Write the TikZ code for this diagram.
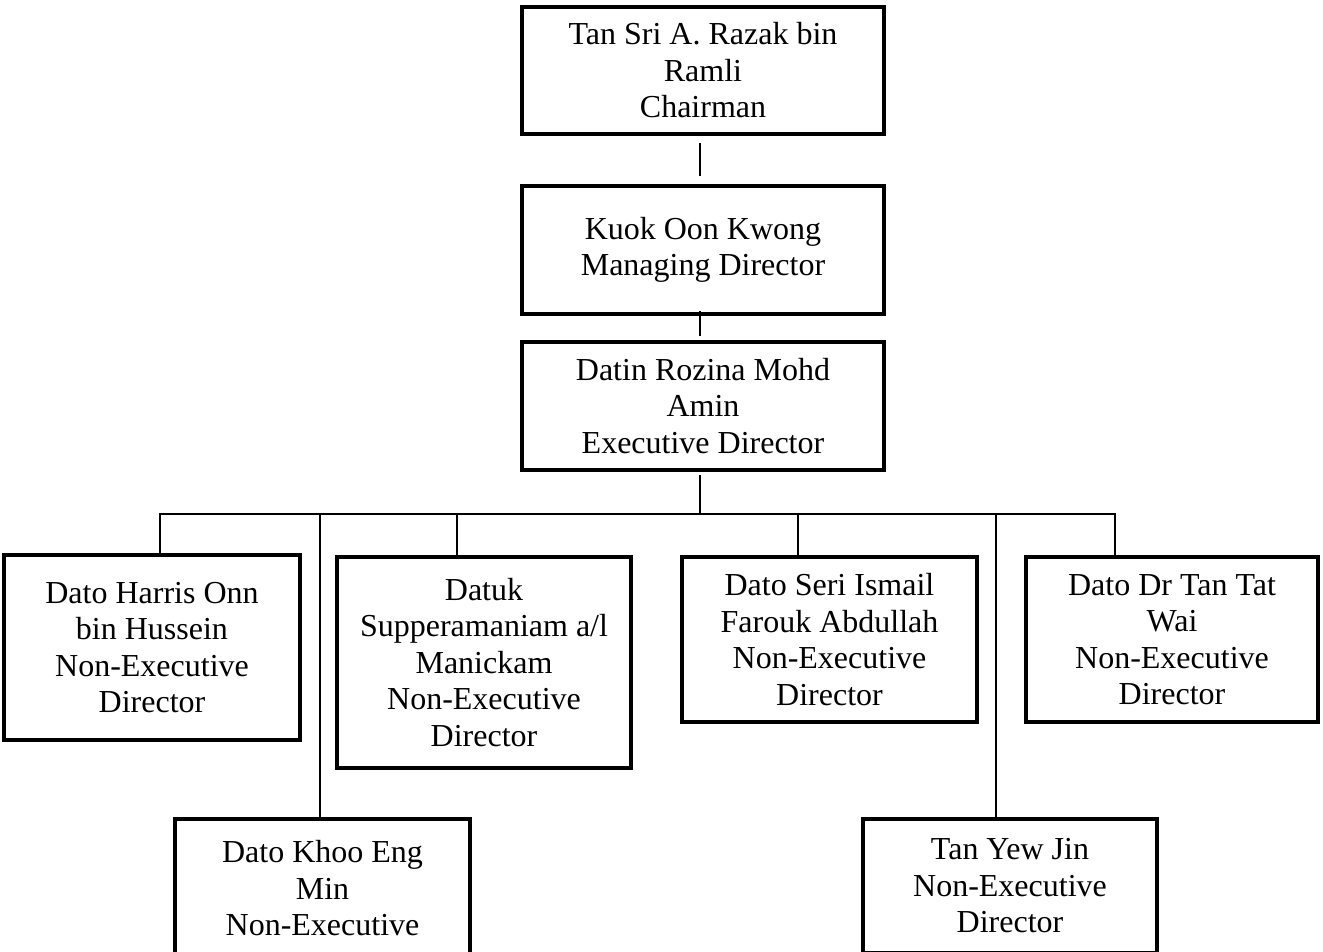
\documentclass[tikz,border=0pt]{standalone}
\usepackage{fontspec}
\setmainfont{Liberation Serif}
\usetikzlibrary{calc}
\begin{document}
\begin{tikzpicture}[x=1pt,y=-1pt,
  box/.style={draw=black, line width=4.6pt, rectangle, align=center, inner sep=0pt,
    font=\fontsize{32}{36.5}\selectfont},
  link/.style={draw=black, line width=2pt}]
\useasboundingbox (0,0) rectangle (1323,952);
\clip (0,0) rectangle (1323,952);
\node[box, minimum width=362pt, minimum height=127pt] (chair) at (703,70.5)
  {Tan Sri A. Razak bin\\Ramli\\Chairman};
\node[box, minimum width=362pt, minimum height=128pt] (md) at (703,250)
  {Kuok Oon Kwong\\Managing Director};
\node[box, minimum width=362pt, minimum height=128pt] (ed) at (703,406)
  {Datin Rozina Mohd\\Amin\\Executive Director};
\node[box, minimum width=296pt, minimum height=185pt] (harris) at (152,647.5)
  {Dato Harris Onn\\bin Hussein\\Non-Executive\\Director};
\node[box, minimum width=294pt, minimum height=211pt] (supp) at (484,662.5)
  {Datuk\\Supperamaniam a/l\\Manickam\\Non-Executive\\Director};
\node[box, minimum width=295pt, minimum height=165pt] (ismail) at (829.5,639.5)
  {Dato Seri Ismail\\Farouk Abdullah\\Non-Executive\\Director};
\node[box, minimum width=292pt, minimum height=165pt] (tantat) at (1172,639.5)
  {Dato Dr Tan Tat\\Wai\\Non-Executive\\Director};
\node[box, minimum width=295pt, minimum height=175pt] (khoo) at (322.5,906.5)
  {Dato Khoo Eng\\Min\\Non-Executive\\\phantom{Director}};
\node[box, minimum width=294pt, minimum height=134pt] (tanyew) at (1010,886)
  {Tan Yew Jin\\Non-Executive\\Director};
\coordinate (bus) at (700,514);
\draw[link] ($(chair.south)+(-3,7)$) -- ($(md.north)+(-3,-8)$);
\draw[link] ($(md.south)+(-3,-5)$) -- ($(ed.north)+(-3,-4)$);
\draw[link] ($(ed.south)+(-3,3)$) -- (bus);
\draw[link] ([xshift=8pt]harris.north) |- (bus);
\draw[link] ([xshift=-27pt]supp.north) |- (bus);
\draw[link] ([xshift=-2.5pt]khoo.north) |- (bus);
\draw[link] ([xshift=-31.5pt]ismail.north) |- (bus);
\draw[link] ([xshift=-57pt]tantat.north) |- (bus);
\draw[link] ([xshift=-14pt]tanyew.north) |- (bus);
\end{tikzpicture}
\end{document}
